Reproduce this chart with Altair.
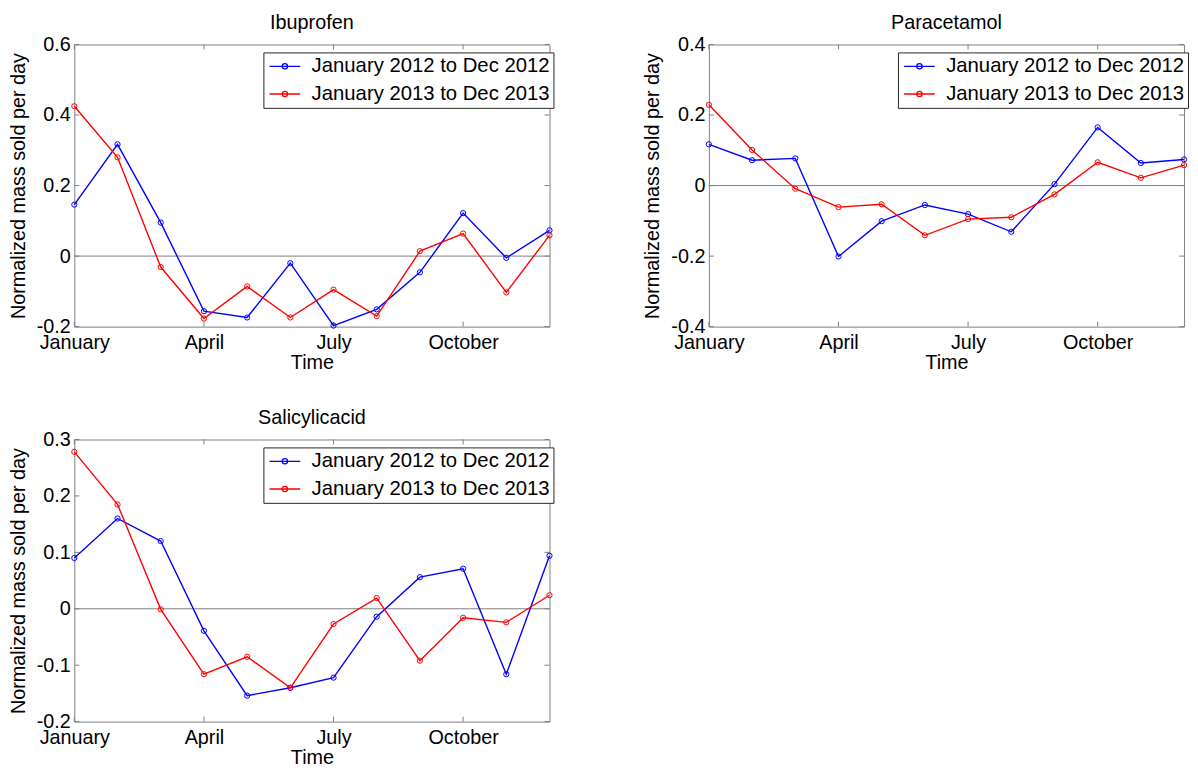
import altair as alt
import pandas as pd

# ---------------- data ----------------
months = list(range(1, 13))
series_names = ["January 2012 to Dec 2012", "January 2013 to Dec 2013"]
series_colors = ["#0000ff", "#ff0000"]
tick_months = [1, 4, 7, 10]
tick_labels = ["January", "April", "July", "October"]

ibuprofen_2012 = [0.146, 0.317, 0.095, -0.156, -0.174, -0.020, -0.197, -0.151, -0.046, 0.122, -0.005, 0.073]
ibuprofen_2013 = [0.425, 0.280, -0.031, -0.177, -0.086, -0.174, -0.095, -0.170, 0.014, 0.064, -0.103, 0.059]
paracetamol_2012 = [0.117, 0.072, 0.077, -0.201, -0.101, -0.055, -0.081, -0.131, 0.004, 0.165, 0.064, 0.074]
paracetamol_2013 = [0.229, 0.101, -0.009, -0.061, -0.053, -0.141, -0.095, -0.090, -0.025, 0.066, 0.022, 0.058]
salicylic_2012 = [0.090, 0.160, 0.120, -0.039, -0.154, -0.140, -0.122, -0.014, 0.056, 0.071, -0.116, 0.094]
salicylic_2013 = [0.278, 0.185, -0.001, -0.116, -0.085, -0.140, -0.027, 0.019, -0.092, -0.016, -0.024, 0.024]

ibuprofen_yticks = [-0.2, 0, 0.2, 0.4, 0.6]
paracetamol_yticks = [-0.4, -0.2, 0, 0.2, 0.4]
salicylic_yticks = [-0.2, -0.1, 0, 0.1, 0.2, 0.3]

# ---------------- style ----------------
W, H = 480, 285
FONT = "Liberation Sans"
FRAME = "#808080"
TICK = 5

label_expr = " : ".join(
    f"datum.value == {v} ? '{t}'" for v, t in zip(tick_months, tick_labels)
) + " : ''"

legend_symbol = ("M-1.55,0L1.55,0M-0.27,0A0.27,0.27,0,1,0,0.27,0"
                 "A0.27,0.27,0,1,0,-0.27,0Z")


def panel(title, v12, v13, yticks):
    df = pd.DataFrame({
        "month": months * 2,
        "value": v12 + v13,
        "series": [series_names[0]] * 12 + [series_names[1]] * 12,
    })
    xs = alt.Scale(domain=[1, 12], nice=False, zero=False)
    ys = alt.Scale(domain=[yticks[0], yticks[-1]], nice=False, zero=False)
    x_axis = alt.Axis(values=tick_months, labelExpr=label_expr, title="Time",
                      labelFlush=False, labelOverlap=False, labelPadding=6,
                      titlePadding=0)
    y_axis = alt.Axis(values=yticks, labelExpr="'' + datum.value",
                      title="Normalized mass sold per day",
                      labelPadding=4, titlePadding=8, labelOverlap=False)

    zero_df = pd.DataFrame({"z": [0]})
    xt_df = pd.DataFrame({"tx": tick_months})
    yt_df = pd.DataFrame({"ty": yticks})

    zero = alt.Chart(zero_df).mark_rule(color=FRAME, strokeWidth=1).encode(
        y=alt.Y("z:Q", scale=ys, axis=y_axis)
    )
    xt_top = alt.Chart(xt_df).mark_rule(color=FRAME, strokeWidth=1).encode(
        x=alt.X("tx:Q", scale=xs, axis=x_axis), y=alt.value(0), y2=alt.value(TICK)
    )
    xt_bot = alt.Chart(xt_df).mark_rule(color=FRAME, strokeWidth=1).encode(
        x=alt.X("tx:Q", scale=xs, axis=x_axis), y=alt.value(H), y2=alt.value(H - TICK)
    )
    yt_left = alt.Chart(yt_df).mark_rule(color=FRAME, strokeWidth=1).encode(
        y=alt.Y("ty:Q", scale=ys, axis=y_axis), x=alt.value(0), x2=alt.value(TICK)
    )
    yt_right = alt.Chart(yt_df).mark_rule(color=FRAME, strokeWidth=1).encode(
        y=alt.Y("ty:Q", scale=ys, axis=y_axis), x=alt.value(W - TICK), x2=alt.value(W)
    )

    lines = alt.Chart(df).mark_line(
        strokeWidth=1.4,
        point=alt.OverlayMarkDef(shape="circle", filled=False, size=28, strokeWidth=1),
    ).encode(
        x=alt.X("month:Q", scale=xs, axis=x_axis),
        y=alt.Y("value:Q", scale=ys, axis=y_axis),
        color=alt.Color("series:N",
                        scale=alt.Scale(domain=series_names, range=series_colors),
                        legend=alt.Legend(
                            title=None, orient="none", legendX=191, legendY=8,
                            fillColor="white", strokeColor="#262626",
                            padding=3, rowPadding=6, labelFontSize=20.5,
                            labelFont=FONT, labelColor="black",
                            labelOffset=16, symbolOffset=7.7, symbolSize=400,
                            symbolType=legend_symbol, symbolStrokeWidth=1.3,
                            symbolFillColor="transparent", labelLimit=400)),
    )

    return alt.layer(zero, xt_top, xt_bot, yt_left, yt_right, lines).properties(
        width=W, height=H,
        title=alt.TitleParams(title, fontSize=20, fontWeight="normal", font=FONT,
                              color="black", offset=2, anchor="middle", frame="group"),
    )


ibu = panel("Ibuprofen", ibuprofen_2012, ibuprofen_2013, ibuprofen_yticks)
para = panel("Paracetamol", paracetamol_2012, paracetamol_2013, paracetamol_yticks)
sal = panel("Salicylicacid", salicylic_2012, salicylic_2013, salicylic_yticks)

top_row = alt.hconcat(ibu, para, spacing=88).resolve_scale(
    x="independent", y="independent", color="independent"
).resolve_legend(color="independent")

chart = alt.vconcat(top_row, sal, spacing=34).resolve_scale(
    x="independent", y="independent", color="independent"
).resolve_legend(color="independent").configure(
    padding={"left": 0, "top": 0, "right": 0, "bottom": 0}, font=FONT
).configure_view(stroke=FRAME, strokeWidth=1).configure_axis(
    domain=False, ticks=False, tickSize=0, grid=False,
    labelFont=FONT, labelFontSize=20, labelColor="black",
    titleFont=FONT, titleFontSize=20, titleFontWeight="normal", titleColor="black",
)

chart.save("out.html", embed_options={"renderer": "svg", "actions": False})
